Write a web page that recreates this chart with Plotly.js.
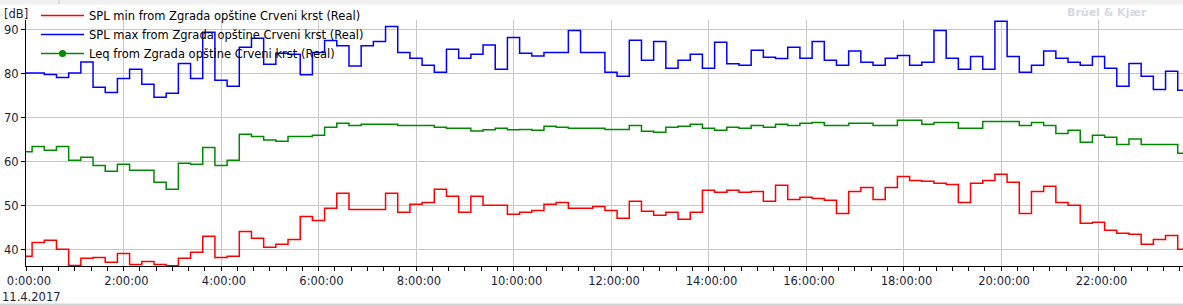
<!DOCTYPE html>
<html>
<head>
<meta charset="utf-8">
<script src="https://cdn.plot.ly/plotly-3.0.1.min.js"></script>
<style>html,body{margin:0;padding:0;background:#fff;}#chart{width:1183px;height:306px;}</style>
</head>
<body>
<div id="chart"></div>
<script>
// 15-minute intervals on 11.4.2017
const times = [
 "00:00","00:15","00:30","00:45","01:00","01:15","01:30","01:45",
 "02:00","02:15","02:30","02:45","03:00","03:15","03:30","03:45",
 "04:00","04:15","04:30","04:45","05:00","05:15","05:30","05:45",
 "06:00","06:15","06:30","06:45","07:00","07:15","07:30","07:45",
 "08:00","08:15","08:30","08:45","09:00","09:15","09:30","09:45",
 "10:00","10:15","10:30","10:45","11:00","11:15","11:30","11:45",
 "12:00","12:15","12:30","12:45","13:00","13:15","13:30","13:45",
 "14:00","14:15","14:30","14:45","15:00","15:15","15:30","15:45",
 "16:00","16:15","16:30","16:45","17:00","17:15","17:30","17:45",
 "18:00","18:15","18:30","18:45","19:00","19:15","19:30","19:45",
 "20:00","20:15","20:30","20:45","21:00","21:15","21:30","21:45",
 "22:00","22:15","22:30","22:45","23:00","23:15","23:30","23:45"
];
const dateStr = "2017-04-11";
const dateLabel = "11.4.2017";

const splMin = [
 38.55,41.7,42.2,40.15,36.5,38.1,38.3,37.2,
 39.2,36.7,37.4,36.7,36.4,38.1,39.5,43.1,
 38.3,38.55,44.2,42.65,40.6,41.3,42.4,47.6,
 46.7,49.5,52.9,49.2,49.2,49.2,52.9,48.6,
 50.4,50.8,53.8,52.2,48.6,52.2,50.15,50.15,
 48.1,48.6,49.0,50.4,50.8,49.5,49.5,49.9,
 49.0,47.2,51.1,48.8,47.9,48.6,47.0,48.6,
 53.6,53.1,53.6,53.1,53.3,51.1,54.7,51.5,
 52.0,51.7,51.3,48.3,53.3,54.2,51.5,54.2,
 56.7,55.8,55.6,55.15,54.9,50.8,55.15,55.8,
 57.2,55.4,48.3,53.3,54.5,50.8,50.15,46.1,
 46.3,44.5,43.8,43.6,41.3,42.4,43.3,40.15
];
const splMax = [
 80.2,80.2,79.9,79.2,80.2,82.7,77.0,75.8,
 79.0,81.1,77.65,74.7,75.6,82.4,79.0,89.5,
 78.6,77.2,86.1,88.1,82.2,84.7,84.5,79.8,
 84.9,87.6,86.4,81.8,86.4,87.4,90.8,84.9,
 83.6,82.0,80.4,85.6,83.6,84.5,86.6,81.1,
 88.3,84.7,84.1,84.9,84.9,89.9,84.9,84.9,
 80.4,79.5,87.65,83.1,87.4,81.3,83.1,84.5,
 81.3,87.2,82.3,82.0,85.4,83.8,83.5,86.1,
 83.6,87.4,83.1,82.0,85.2,82.65,82.0,83.6,
 84.2,82.0,82.65,89.9,83.6,81.1,84.0,81.1,
 92.0,84.0,80.4,82.0,85.2,83.6,82.65,82.0,
 84.0,81.3,77.2,82.4,79.5,76.5,80.6,76.3
];
const leq = [
 62.35,63.5,62.65,63.5,60.4,61.1,59.2,57.9,
 59.5,58.1,58.1,55.4,53.8,59.7,59.5,63.3,
 59.2,60.4,66.3,65.8,65.0,64.7,65.8,65.8,
 66.1,67.9,68.8,68.3,68.6,68.6,68.6,68.3,
 68.3,68.3,67.9,67.65,67.65,67.05,67.3,67.65,
 67.3,67.4,67.2,68.1,67.9,67.65,67.65,67.65,
 67.4,67.4,68.3,67.0,66.75,67.9,68.1,68.6,
 67.65,67.2,67.9,67.65,68.3,67.9,68.6,68.3,
 68.8,69.0,68.3,68.3,68.8,68.8,68.3,68.3,
 69.5,69.5,68.6,69.0,69.0,67.65,67.65,69.2,
 69.2,69.2,68.3,69.0,68.3,66.5,67.2,64.5,
 66.1,65.6,64.0,65.2,64.0,64.0,64.0,62.0
];
const seriesNames = [
 "SPL min from Zgrada opštine Crveni krst (Real)",
 "SPL max from Zgrada opštine Crveni krst (Real)",
 "Leq from Zgrada opštine Crveni krst (Real)"
];
const yTicks = [40, 50, 60, 70, 80, 90];

const x = times.map(t => dateStr + " " + t + ":00");
const FONT = "DejaVu Sans, Verdana, sans-serif";

const traces = [
 {x: x, y: splMin, name: seriesNames[0], type: "scatter", mode: "lines",
  line: {color: "#ff0000", width: 1.5, shape: "hvh"}},
 {x: x, y: splMax, name: seriesNames[1], type: "scatter", mode: "lines",
  line: {color: "#0000ff", width: 1.5, shape: "hvh"}},
 {x: x, y: leq, name: seriesNames[2], type: "scatter", mode: "lines+markers",
  line: {color: "#008a00", width: 1.5, shape: "hvh"},
  marker: {color: "#008a00", size: 7, symbol: "circle"},
  selectedpoints: [], unselected: {marker: {opacity: 0}}}
];

const W = 1183, H = 306, ML = 26, MT = 20, MB = 40;
const PW = W - ML, PH = H - MT - MB;
const px = v => (v - ML) / PW;           // page x -> paper x
const py = v => (H - MB - v) / PH;       // page y -> paper y

const layout = {
 width: W, height: H,
 margin: {l: ML, r: 0, t: MT, b: MB, pad: 0},
 paper_bgcolor: "#ffffff", plot_bgcolor: "#ffffff",
 font: {family: FONT, size: 11.5, color: "#1a1e3c"},
 showlegend: true,
 legend: {x: px(36), y: py(1), xanchor: "left", yanchor: "top",
  bgcolor: "rgba(0,0,0,0)", borderwidth: 0, itemwidth: 43,
  font: {family: FONT, size: 11.5, color: "#000000"}, tracegroupgap: 0},
 xaxis: {type: "date",
  range: [dateStr + " 00:00:00", dateStr + " 23:44:00"],
  tick0: dateStr + " 00:00:00", dtick: 7200000, tickformat: "%-H:%M:%S",
  showgrid: true, gridcolor: "#c8c8c8", gridwidth: 1,
  showline: true, linecolor: "#000000", linewidth: 1,
  ticks: "outside", ticklen: 4, tickcolor: "#000000", tickwidth: 1,
  minor: {dtick: 1200000, ticks: "outside", ticklen: 4, tickcolor: "#000000", showgrid: false},
  zeroline: false, ticklabelshift: 3, fixedrange: true},
 yaxis: {range: [36.36, 92.27], tickvals: yTicks, ticktext: yTicks.map(String),
  showgrid: true, gridcolor: "#c8c8c8", gridwidth: 1,
  showline: true, linecolor: "#000000", linewidth: 1,
  ticks: "outside", ticklen: 4, tickcolor: "#000000",
  zeroline: false, fixedrange: true},
 annotations: [
  {text: "[dB]", xref: "paper", yref: "paper", x: px(2), y: py(14),
   xanchor: "left", yanchor: "middle", showarrow: false,
   font: {family: FONT, size: 11.5, color: "#1a1e3c"}},
  {text: dateLabel, xref: "paper", yref: "paper", x: px(0), y: py(297),
   xanchor: "left", yanchor: "middle", showarrow: false,
   font: {family: FONT, size: 11.5, color: "#1a1e3c"}},
  {text: "<b>Brüel & Kjær</b>", xref: "paper", yref: "paper", x: px(1149), y: py(12),
   xanchor: "right", yanchor: "middle", showarrow: false,
   font: {family: FONT, size: 11, color: "#d5d9de"}}
 ],
 shapes: [
  {type: "rect", xref: "paper", yref: "paper", x0: px(0), x1: px(W), y0: py(4.5), y1: py(0),
   fillcolor: "#f0f0f0", line: {width: 0}, layer: "below"},
  {type: "line", xref: "paper", yref: "paper", x0: px(59), x1: px(59), y0: py(4.5), y1: py(0),
   line: {color: "#c8c8c8", width: 1}},
  {type: "rect", xref: "paper", yref: "paper", x0: px(0), x1: px(W), y0: py(306), y1: py(303.5),
   fillcolor: "#d6d6d6", line: {width: 0}}
 ]
};

Plotly.newPlot("chart", traces, layout, {displayModeBar: false, staticPlot: true});
</script>
</body>
</html>
